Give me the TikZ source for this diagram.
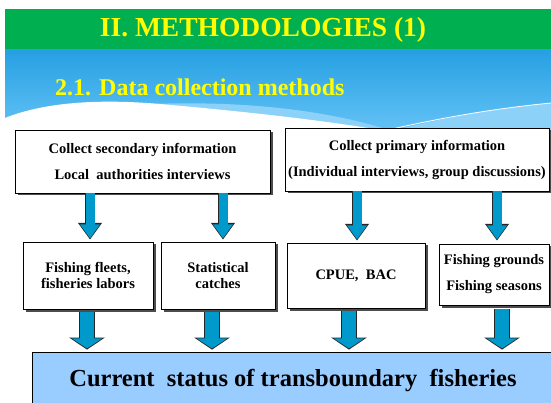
\documentclass[tikz,border=0pt]{standalone}
\usepackage{fontspec}
\setmainfont{Liberation Serif}
\usetikzlibrary{shapes}
\usetikzlibrary{arrows.meta}
\usetikzlibrary{shadows}

\definecolor{bandgreen}{RGB}{0,176,80}
\definecolor{skytop}{RGB}{38,160,226}
\definecolor{skybottom}{RGB}{100,194,246}
\definecolor{skylight}{RGB}{140,210,248}
\definecolor{arrowblue}{RGB}{0,153,204}
\definecolor{resultblue}{RGB}{153,204,255}
\definecolor{titleyellow}{RGB}{255,255,0}

\begin{document}
\begin{tikzpicture}[x=1pt,y=-1pt]
\tikzstyle{infobox}=[rectangle, draw=black, line width=0.8pt, fill=white, align=center, inner sep=2pt, font=\bfseries\fontsize{14.5}{16}\selectfont, general shadow={fill=black!70, shadow xshift=2.5pt, shadow yshift=-2.5pt}]

% Define the block arrows (blue body with a dark rim)
\tikzstyle{thinarrow}=[line width=9pt, draw=arrowblue, shorten >=1.2pt, -{Triangle[width=19pt,length=14pt]}, preaction={draw=black!85, line width=10.6pt, shorten >=0pt, -{Triangle[width=23pt,length=16.8pt]}}]
\tikzstyle{widearrow}=[line width=14pt, draw=arrowblue, shorten >=1.2pt, -{Triangle[width=30pt,length=10pt]}, preaction={draw=black!85, line width=15.6pt, shorten >=0pt, -{Triangle[width=35pt,length=12pt]}}]

\tikzstyle{result}=[rectangle, draw=black, line width=0.8pt, fill=resultblue, font=\bfseries\fontsize{24.5}{28}\selectfont]

\useasboundingbox (0,0) rectangle (551,403);

% slide background
\fill[bandgreen] (5,9) rectangle (551,50);
\shade[top color=skytop, bottom color=skybottom] (5,50) rectangle (551,131);
\fill[skylight] (150,104) .. controls (260,100) and (340,114) .. (392,131) -- (150,131) -- cycle;
\fill[white] (5,132) -- (5,118) .. controls (40,104) and (90,98) .. (160,104) .. controls (250,112) and (330,121) .. (392,132) -- cycle;
\fill[skylight] (392,131) .. controls (450,116) and (500,108) .. (551,103) -- (551,131) -- cycle;
\draw[white, line width=0.8pt] (392,129) .. controls (450,116) and (500,108) .. (551,103);

% headings
\node (title) at (263,30) [text=titleyellow, font=\bfseries\fontsize{27.5}{30}\selectfont] {II. METHODOLOGIES (1)};
\node (subtitle) at (55,87) [anchor=west, inner sep=0pt, text=titleyellow, font=\bfseries\fontsize{24}{28}\selectfont] {2.1. Data collection methods};

% define the nodes
\node (sec) at (142.5,161.5) [infobox, minimum width=255pt, minimum height=63pt] {Collect secondary information\\[10pt]Local\ \ authorities interviews};
\node (prim) at (417,159.5) [infobox, minimum width=264pt, minimum height=63pt] {Collect primary information\\[10pt](Individual interviews, group discussions)};

\node (fleets) at (88,275.5) [infobox, minimum width=130pt, minimum height=67pt] {Fishing fleets,\\fisheries labors};
\node (stats) at (218,275.5) [infobox, minimum width=114pt, minimum height=67pt] {Statistical\\catches};
\node (cpue) at (356,275.5) [infobox, minimum width=138pt, minimum height=65pt] {CPUE,\ \ BAC};
\node (grounds) at (494,274.5) [infobox, minimum width=110pt, minimum height=61pt] {Fishing grounds\\[10pt]Fishing seasons};

\node (current) at (293,381) [result, minimum width=522pt, minimum height=58pt] {Current\ \ status of transboundary\ \ fisheries};

% define the arrows between the nodes
\coordinate (fleetsin) at ([xshift=2pt,yshift=2pt]fleets.north);
\coordinate (statsin) at ([xshift=5pt,yshift=2pt]stats.north);
\coordinate (cpuein) at ([xshift=1pt,yshift=2pt]cpue.north);
\coordinate (groundsin) at ([xshift=3pt,yshift=3pt]grounds.north);
\draw[thinarrow] (sec.south -| fleetsin) -- (fleetsin);
\draw[thinarrow] (sec.south -| statsin) -- (statsin);
\draw[thinarrow] (prim.south -| cpuein) -- (cpuein);
\draw[thinarrow] (prim.south -| groundsin) -- (groundsin);

\coordinate (fleetsout) at ([xshift=-1pt,yshift=-3pt]fleets.south);
\coordinate (statsout) at ([xshift=-6pt,yshift=-3pt]stats.south);
\coordinate (cpueout) at ([xshift=-7pt,yshift=-3pt]cpue.south);
\coordinate (groundsout) at ([xshift=8pt,yshift=-4pt]grounds.south);
\coordinate (currenttop) at ([yshift=2pt]current.north);
\draw[widearrow] (fleetsout) -- (currenttop -| fleetsout);
\draw[widearrow] (statsout) -- (currenttop -| statsout);
\draw[widearrow] (cpueout) -- (currenttop -| cpueout);
\draw[widearrow] (groundsout) -- (currenttop -| groundsout);

\end{tikzpicture}
\end{document}
